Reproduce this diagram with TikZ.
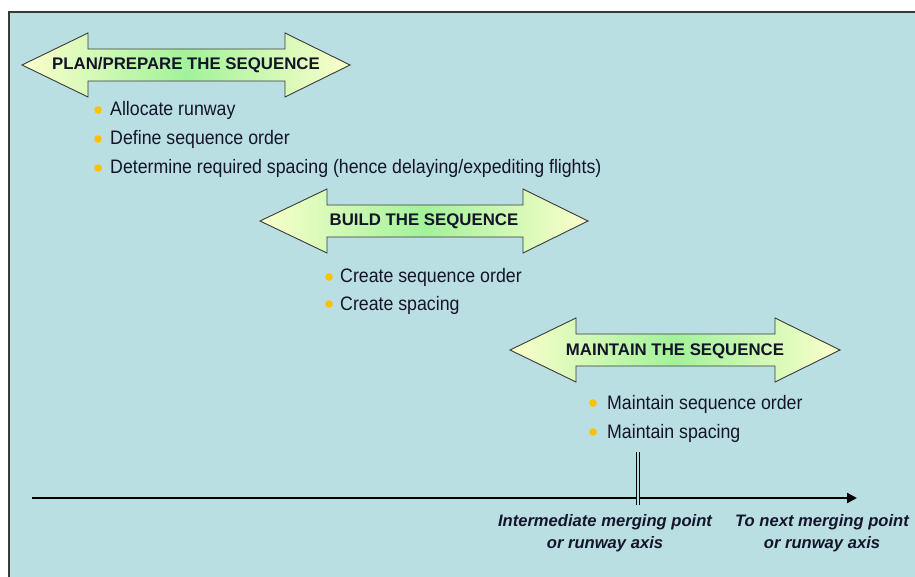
\documentclass[tikz,border=0pt]{standalone}
\usepackage{fontspec}
\setmainfont{Liberation Sans}
\newfontfamily\narrowfont[FakeStretch=0.91]{Liberation Sans}
\usetikzlibrary{arrows.meta}
\definecolor{bg}{HTML}{B9DFE2}
\definecolor{framecol}{HTML}{3A3A3A}
\definecolor{paleyellow}{HTML}{FBFFCC}
\definecolor{palegreen}{HTML}{A2F29A}
\definecolor{bulletcol}{HTML}{FFC000}
\definecolor{txt}{HTML}{14142A}
\tikzset{
  seqshape/.style={draw=framecol, line width=0.9pt, line join=miter,
    left color=paleyellow, right color=paleyellow, middle color=palegreen},
  arrowtext/.style={font=\fontsize{16.8}{18}\selectfont\bfseries, text=txt, inner sep=0pt},
  item/.style={font=\narrowfont\fontsize{19.5}{22}\selectfont, text=txt, inner sep=0pt, anchor=base west},
  bulletdot/.style={fill=bulletcol},
  axisline/.style={line width=2.2pt, -{Triangle[length=10pt,width=10pt]}},
  tickline/.style={double=bg, double distance=2pt, line width=1pt, draw=black},
  axislabel/.style={font=\fontsize{16.6}{22}\selectfont\bfseries\itshape, text=txt, align=center, inner sep=0pt, anchor=north}
}
\newcommand\seqarrow[5]{%
  \draw[seqshape] (#1,#5) -- (#2,#5-32) -- (#2,#5-16) -- (#3,#5-16) -- (#3,#5-32)
    -- (#4,#5) -- (#3,#5+32) -- (#3,#5+16) -- (#2,#5+16) -- (#2,#5+32) -- cycle;}
\begin{document}
\begin{tikzpicture}[x=1pt,y=-1pt]
\useasboundingbox (0,0) rectangle (915,577);
\fill[white] (0,0) rectangle (915,577);
\fill[bg] (9,12) rectangle (916,578);
\draw[framecol, line width=1.5pt] (9,578) -- (9,12) -- (916,12);

% arrows
\seqarrow{22}{88}{285}{350}{65}
\node[arrowtext] (plan) at (186,65) {PLAN/PREPARE THE SEQUENCE};
\seqarrow{260}{327}{523}{588}{221}
\node[arrowtext] (build) at (424,221) {BUILD THE SEQUENCE};
\seqarrow{510}{576}{775}{840}{350}
\node[arrowtext] (maintain) at (675,351) {MAINTAIN THE SEQUENCE};

% list 1
\fill[bulletdot] (98,110) circle (3.8pt);
\node[item] (p1) at (110,116) {Allocate runway};
\fill[bulletdot] (98,139) circle (3.8pt);
\node[item] (p2) at (110,145) {Define sequence order};
\fill[bulletdot] (98,168) circle (3.8pt);
\node[item] (p3) at (110,174) {Determine required spacing (hence delaying/expediting flights)};

% list 2
\fill[bulletdot] (329,277) circle (3.8pt);
\node[item] (b1) at (340,283) {Create sequence order};
\fill[bulletdot] (329,304) circle (3.8pt);
\node[item] (b2) at (340,310) {Create spacing};

% list 3
\fill[bulletdot] (593,403) circle (3.8pt);
\node[item] (m1) at (607,409) {Maintain sequence order};
\fill[bulletdot] (593,432) circle (3.8pt);
\node[item] (m2) at (607,438) {Maintain spacing};

% axis
\coordinate (axstart) at (32,498);
\coordinate (axend) at (857,498);
\draw[axisline] (axstart) -- (axend);
\coordinate (ticktop) at (638,452);
\coordinate (tickbot) at (638,505);
\draw[tickline] (ticktop) -- (tickbot);

\node[axislabel] (lab1) at (605,514) {Intermediate merging point\\or runway axis};
\node[axislabel] (lab2) at (822,514) {To next merging point\\or runway axis};
\end{tikzpicture}
\end{document}
